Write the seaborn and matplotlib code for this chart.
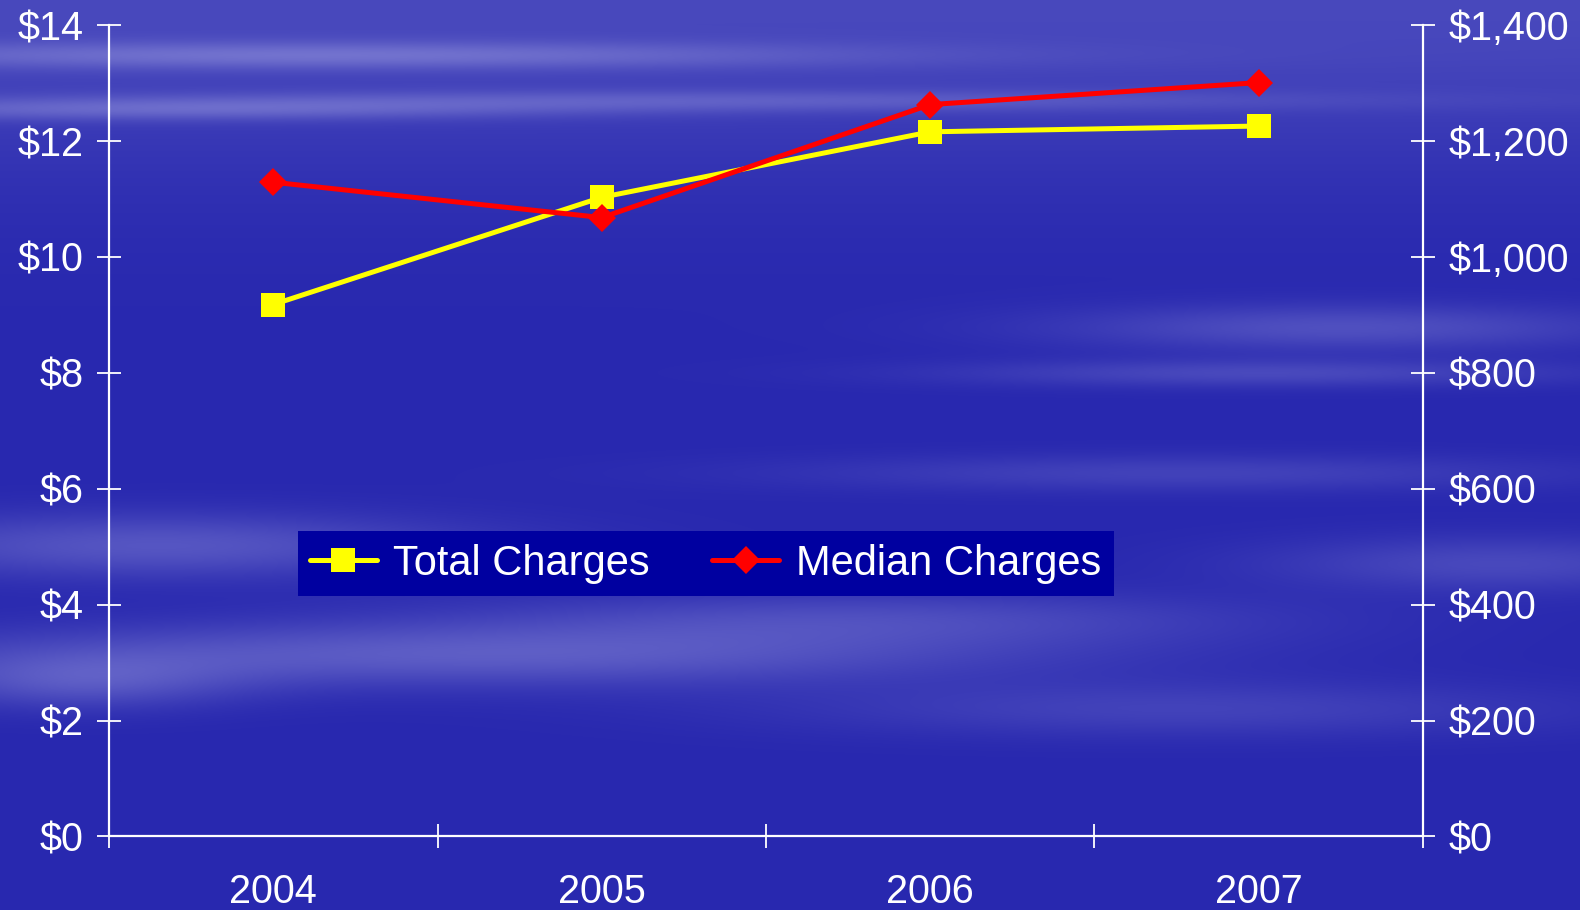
import numpy as np
import pandas as pd
import matplotlib
matplotlib.use('Agg')
import matplotlib.pyplot as plt
import seaborn as sns

# Data
years = ['2004', '2005', '2006', '2007']
total_charges = [9.18, 11.03, 12.16, 12.26]      # left axis, $ (billions)
median_charges = [1129, 1068, 1263, 1301]        # right axis, $

left_ticks = [0, 2, 4, 6, 8, 10, 12, 14]
right_ticks = [0, 200, 400, 600, 800, 1000, 1200, 1400]

df = pd.DataFrame({'year': years, 'total': total_charges, 'median': median_charges})

sns.set_style('white')
plt.rcParams['font.family'] = ['Liberation Sans', 'DejaVu Sans']

fig = plt.figure(figsize=(15.8, 9.1), dpi=100)

# Background: blue sky with soft cloud streaks (decoration only)
bg = fig.add_axes([0, 0, 1, 1], zorder=-10)
bg.axis('off')
h, w = 455, 790
yy, xx = np.mgrid[0:1:h * 1j, 0:1:w * 1j]
light = 0.25 * np.exp(-((yy - 0.0) / 0.18) ** 2)
streaks = [  # (x0, y0, sx, sy, amp)
    (0.20, 0.06, 0.35, 0.015, 0.35), (0.45, 0.11, 0.40, 0.012, 0.25),
    (0.10, 0.12, 0.25, 0.012, 0.30), (0.85, 0.36, 0.18, 0.025, 0.30),
    (0.80, 0.41, 0.20, 0.015, 0.25), (0.75, 0.52, 0.25, 0.02, 0.20),
    (0.10, 0.60, 0.20, 0.035, 0.35), (0.30, 0.72, 0.35, 0.035, 0.40),
    (0.55, 0.68, 0.25, 0.03, 0.25), (0.95, 0.62, 0.15, 0.03, 0.25),
    (0.75, 0.78, 0.25, 0.03, 0.20), (0.05, 0.75, 0.10, 0.03, 0.30),
]
for x0, y0, sx, sy, a in streaks:
    light += a * np.exp(-((xx - x0) / sx) ** 2 - ((yy - y0) / sy) ** 2)
light = np.clip(light, 0, 1)
base = np.array([40, 40, 175]) / 255.0
cloud = np.array([170, 170, 230]) / 255.0
img = base[None, None, :] * (1 - light[..., None]) + cloud[None, None, :] * light[..., None]
bg.imshow(img, aspect='auto', extent=[0, 1, 0, 1], interpolation='bilinear')

ax = fig.add_axes([0.069, 0.0808, 0.8316, 0.8915])
ax.patch.set_alpha(0)
ax2 = ax.twinx()
ax2.patch.set_alpha(0)

sns.lineplot(data=df, x='year', y='total', ax=ax, color='#FFFF00', linewidth=3.6,
             marker='s', markersize=17.5, markeredgewidth=0, label='Total Charges',
             legend=False, sort=False)
sns.lineplot(data=df, x='year', y='median', ax=ax2, color='#FF0000', linewidth=3.6,
             marker='D', markersize=14, markeredgewidth=0, label='Median Charges',
             legend=False, sort=False)

fs = 28.5
for a in (ax, ax2):
    a.set_xlim(-0.5, len(years) - 0.5)
    a.set_xlabel('')
    a.set_ylabel('')
    for s in a.spines.values():
        s.set_visible(False)
    a.grid(False)

ax.set_ylim(0, 14)
ax2.set_ylim(0, 1400)
ax.set_yticks(left_ticks)
ax.set_yticklabels([f'${v}' for v in left_ticks])
ax2.set_yticks(right_ticks)
ax2.set_yticklabels([f'${v:,}' for v in right_ticks])

ax.spines['left'].set_visible(True)
ax.spines['bottom'].set_visible(True)
ax2.spines['right'].set_visible(True)
for a, side in ((ax, 'left'), (ax, 'bottom'), (ax2, 'right')):
    a.spines[side].set_color('white')
    a.spines[side].set_linewidth(1.6)

ax.tick_params(axis='y', direction='inout', length=17, width=1.3, colors='white',
               labelsize=fs, pad=10, left=True)
ax2.tick_params(axis='y', direction='inout', length=17, width=1.3, colors='white',
                labelsize=fs, pad=10, right=True)

# category boundaries as major ticks, labels on minor ticks at centers
ax.set_xticks(np.arange(-0.5, len(years), 1.0))
ax.set_xticklabels([])
ax.set_xticks(range(len(years)), minor=True)
ax.set_xticklabels(years, minor=True)
ax.tick_params(axis='x', which='major', direction='inout', length=17, width=1.3,
               colors='white', bottom=True)
ax.tick_params(axis='x', which='minor', length=0, colors='white', labelsize=fs, pad=26)
ax2.tick_params(axis='x', which='both', bottom=False, labelbottom=False)

h1, l1 = ax.get_legend_handles_labels()
h2, l2 = ax2.get_legend_handles_labels()
leg = ax2.legend(h1 + h2, l1 + l2, loc='center', bbox_to_anchor=(0.454, 0.336), ncol=2,
                 frameon=True, fancybox=False, facecolor='#0000A0', edgecolor='#0000A0',
                 framealpha=1, fontsize=30, labelcolor='white', handlelength=1.6,
                 handletextpad=0.4, columnspacing=1.5, borderpad=0.3, borderaxespad=0)
leg.get_frame().set_linewidth(0)

fig.savefig('out.png', dpi=100)
